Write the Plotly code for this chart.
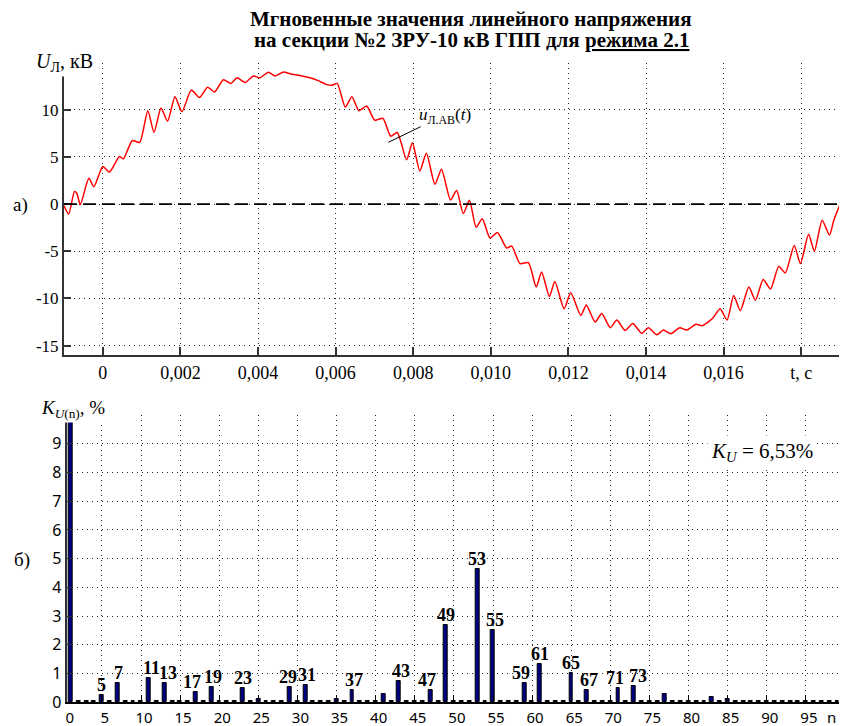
import plotly.graph_objects as go

# page is drawn with an 8px body margin, so the figure is sized to fit the 847x726 window
OX, OY = 8, 8
FW, FH = 847 - OX, 726 - OY

# ---------------- data ----------------
# instantaneous line voltage u_Л.АВ(t): time (ms) and value (kV)
t_ms = [-1.00, -0.88, -0.73, -0.67, -0.58, -0.36, -0.23, 0.00, 0.17, 0.43,
        0.53, 0.76, 0.95, 1.16, 1.32, 1.50, 1.67, 1.86, 2.04, 2.28,
        2.49, 2.70, 2.88, 3.11, 3.30, 3.46, 3.67, 3.88, 4.05, 4.27,
        4.44, 4.65, 4.85, 5.13, 5.34, 5.55, 5.76, 5.90, 6.04, 6.25,
        6.42, 6.60, 6.80, 7.01, 7.22, 7.42, 7.59, 7.83, 7.98, 8.17,
        8.34, 8.56, 8.73, 8.96, 9.12, 9.29, 9.45, 9.62, 9.78, 9.98,
        10.17, 10.41, 10.54, 10.75, 10.97, 11.17, 11.31, 11.51, 11.65, 11.89,
        12.06, 12.32, 12.46, 12.69, 12.86, 13.08, 13.25, 13.46, 13.66, 13.89,
        14.06, 14.28, 14.45, 14.64, 14.87, 15.05, 15.29, 15.44, 15.72, 15.91,
        16.09, 16.26, 16.43, 16.65, 16.82, 17.02, 17.21, 17.42, 17.59, 17.82,
        17.98, 18.19, 18.34, 18.54, 18.73, 18.84, 19.00]
u_kv = [-0.15, -1.05, 1.35, 1.15, -0.05, 2.75, 1.85, 4.0, 3.4, 5.05,
        4.8, 6.75, 6.55, 9.9, 7.6, 10.2, 8.8, 11.4, 9.8, 12.1,
        11.3, 12.4, 11.9, 13.2, 12.8, 13.4, 12.9, 13.6, 13.4, 14.0,
        13.6, 14.0, 13.8, 13.6, 13.4, 13.1, 12.7, 12.6, 12.8, 10.3,
        11.4, 9.9, 10.4, 8.9, 9.1, 7.2, 7.6, 4.7, 6.5, 3.5,
        5.4, 2.1, 3.7, 0.45, 1.45, -1.0, 0.4, -2.45, -1.55, -3.6,
        -3.0, -4.65, -4.45, -6.3, -6.2, -8.8, -7.2, -9.8, -8.2, -11.1,
        -9.4, -11.8, -10.7, -12.5, -11.6, -13.1, -12.3, -13.4, -12.65, -13.7,
        -13.1, -13.85, -13.35, -13.75, -13.1, -13.35, -12.75, -12.9, -12.1, -11.1,
        -12.3, -9.7, -11.3, -8.8, -10.2, -8.0, -9.0, -6.6, -7.3, -4.4,
        -6.3, -3.2, -5.0, -1.7, -3.3, -1.7, -0.05]
t_s = [v / 1000.0 for v in t_ms]

t_tickvals = [0, 0.002, 0.004, 0.006, 0.008, 0.010, 0.012, 0.014, 0.016, 0.018]
t_ticktext = ["0", "0,002", "0,004", "0,006", "0,008", "0,010", "0,012", "0,014", "0,016", "t, c"]
u_tickvals = [-15, -10, -5, 0, 5, 10, 15]
u_ticktext = ["-15", "-10", "-5", "0", "5", "10", ""]

# harmonic spectrum K_U(n), % for n = 1..99
harm_n = list(range(1, 100))
harm_k = [100, 0.04, 0.04, 0.04, 0.27, 0.04, 0.66, 0.04, 0.04, 0.04,   # 1-10
          0.83, 0.04, 0.66, 0.04, 0.04, 0.04, 0.35, 0.04, 0.52, 0.04,   # 11-20
          0.04, 0.04, 0.49, 0.04, 0.12, 0.04, 0.04, 0.04, 0.53, 0.04,   # 21-30
          0.61, 0.04, 0.04, 0.04, 0.11, 0.04, 0.43, 0.04, 0.04, 0.04,   # 31-40
          0.28, 0.04, 0.75, 0.04, 0.04, 0.04, 0.43, 0.04, 2.68, 0.04,   # 41-50
          0.04, 0.04, 4.65, 0.04, 2.51, 0.04, 0.04, 0.04, 0.66, 0.04,   # 51-60
          1.33, 0.04, 0.04, 0.04, 1.03, 0.04, 0.43, 0.04, 0.04, 0.04,   # 61-70
          0.49, 0.04, 0.58, 0.04, 0.04, 0.04, 0.28, 0.04, 0.04, 0.04,   # 71-80
          0.04, 0.04, 0.17, 0.04, 0.11, 0.04, 0.04, 0.04, 0.04, 0.04,   # 81-90
          0.04, 0.04, 0.04, 0.04, 0.04, 0.04, 0.04, 0.04, 0.04]         # 91-99
labeled_n = [5, 7, 11, 13, 17, 19, 23, 29, 31, 37, 43, 47, 49, 53, 55, 59, 61, 65, 67, 71, 73]
# small horizontal nudges of the labels (px) so neighbouring labels do not collide
label_dx = [0, 1, 3, 4, -4, 2, 0, -2, 2, 2, 2, -3, 0, 0, 2, -3, 0, 0, 2, -3, 4]

n_tickvals = [0.5] + list(range(5, 101, 5))
n_ticktext = ["0"] + [str(v) for v in range(5, 100, 5)] + [""]
n_axis_name = "n"
k_tickvals = list(range(0, 11))
k_ticktext = [str(v) for v in range(0, 10)] + [""]

KU_total = "6,53"

# ---------------- figure ----------------
SERIF = "Liberation Serif"
SANS = "Noto Sans"

def px(x):
    return (x - OX) / FW

def py(y):
    return 1 - (y - OY) / FH

fig = go.Figure()
fig.add_trace(go.Scatter(
    x=t_s, y=u_kv, mode="lines",
    line=dict(color="#ff0000", width=1.5, shape="spline", smoothing=0.6),
    xaxis="x", yaxis="y", hoverinfo="skip"))
fig.add_trace(go.Bar(
    x=harm_n, y=harm_k, width=0.5,
    marker=dict(color="#000080", line=dict(color="black", width=1)),
    xaxis="x2", yaxis="y2", hoverinfo="skip"))

grid_dash = "1px,4px"
common_grid = dict(showgrid=True, gridcolor="#222", gridwidth=1, griddash=grid_dash,
                   zeroline=False, showline=True, ticks="inside", mirror=False,
                   automargin=False)

fig.update_layout(
    width=FW, height=FH, margin=dict(l=0, r=0, t=0, b=0, autoexpand=False),
    paper_bgcolor="white", plot_bgcolor="white", showlegend=False,
    bargap=0,
    xaxis=dict(domain=[px(64), px(840)], anchor="y", range=[-0.001, 0.019],
               tickvals=t_tickvals, ticktext=t_ticktext,
               linecolor="#333", linewidth=2, ticklen=8, tickwidth=1.5, tickcolor="#333",
               tickfont=dict(family=SERIF, size=18, color="black"), **common_grid),
    yaxis=dict(domain=[py(355), py(62.7)], anchor="x", range=[-16, 15],
               tickvals=u_tickvals, ticktext=u_ticktext,
               linecolor="#333", linewidth=2, ticklen=7, tickwidth=1.5, tickcolor="#333",
               tickfont=dict(family=SERIF, size=17, color="black"), **common_grid),
    xaxis2=dict(domain=[px(66.7), min(1.0, px(845))], anchor="y2", range=[0.5, 100],
                tickvals=n_tickvals, ticktext=n_ticktext, ticklabelshift=3,
                ticklabelstandoff=1,
                linecolor="black", linewidth=2, ticklen=7, tickwidth=1.2, tickcolor="black",
                tickfont=dict(family=SANS, size=15, color="black"), **common_grid),
    yaxis2=dict(domain=[py(702.3), py(415)], anchor="x2", range=[0, 10],
                tickvals=k_tickvals, ticktext=k_ticktext,
                linecolor="#333", linewidth=2, ticklen=6, tickwidth=1.2, tickcolor="#333",
                tickfont=dict(family=SANS, size=16, color="black"), **common_grid),
)

# zero reference line on the waveform chart
fig.add_shape(type="line", xref="x domain", x0=0, x1=1, yref="y", y0=0, y1=0,
              line=dict(color="black", width=1.8, dash="13px,6px"))
# leader line of the curve label
fig.add_shape(type="line", xref="paper", yref="paper",
              x0=px(388.3), y0=py(142.3), x1=px(420.7), y1=py(126.7),
              line=dict(color="black", width=1))

ann = []
ann.append(dict(text="<b>Мгновенные значения линейного напряжения</b>",
                x=px(471), y=py(19.5), xanchor="center", yanchor="middle",
                font=dict(family=SERIF, size=21, color="black")))
ann.append(dict(text="<b>на секции №2 ЗРУ-10 кВ ГПП для <u>режима 2.1</u></b>",
                x=px(471), y=py(40.5), xanchor="center", yanchor="middle",
                font=dict(family=SERIF, size=21, color="black")))
ann.append(dict(text="<i>U</i><sub>Л</sub>, кВ", x=px(34), y=py(62.7),
                xanchor="left", yanchor="middle", bgcolor="white", borderpad=1,
                font=dict(family=SERIF, size=20, color="black")))
ann.append(dict(text="а)", x=px(20), y=py(205), xanchor="center", yanchor="middle",
                font=dict(family=SERIF, size=19, color="black")))
ann.append(dict(text="б)", x=px(22), y=py(560), xanchor="center", yanchor="middle",
                font=dict(family=SERIF, size=19, color="black")))
ann.append(dict(text="<i>u</i><sub>Л.АВ</sub>(<i>t</i>)", x=px(445), y=py(116),
                xanchor="center", yanchor="middle",
                font=dict(family=SERIF, size=17, color="black")))
ann.append(dict(text="<i>K</i><sub><i>U</i>(n)</sub>, %", x=px(39), y=py(409),
                xanchor="left", yanchor="middle", bgcolor="white", borderpad=1,
                font=dict(family=SERIF, size=19, color="black")))
ann.append(dict(text="<i>K</i><sub><i>U</i></sub> = " + KU_total + "%", x=px(761.7), y=py(452),
                xanchor="center", yanchor="middle", bgcolor="white", borderpad=3,
                font=dict(family=SERIF, size=21, color="black")))
ann.append(dict(text=n_axis_name, x=px(831), y=py(717), xanchor="center", yanchor="middle",
                font=dict(family=SANS, size=15, color="black")))
for n, dx in zip(labeled_n, label_dx):
    ann.append(dict(text="<b>" + str(n) + "</b>", x=n, y=harm_k[n - 1], xref="x2", yref="y2",
                    xanchor="center", yanchor="bottom", yshift=-2, xshift=dx, showarrow=False,
                    font=dict(family=SERIF, size=18, color="black")))
for a in ann:
    a.setdefault("xref", "paper")
    a.setdefault("yref", "paper")
    a["showarrow"] = False
fig.update_layout(annotations=ann)

fig.write_html("out.html")
